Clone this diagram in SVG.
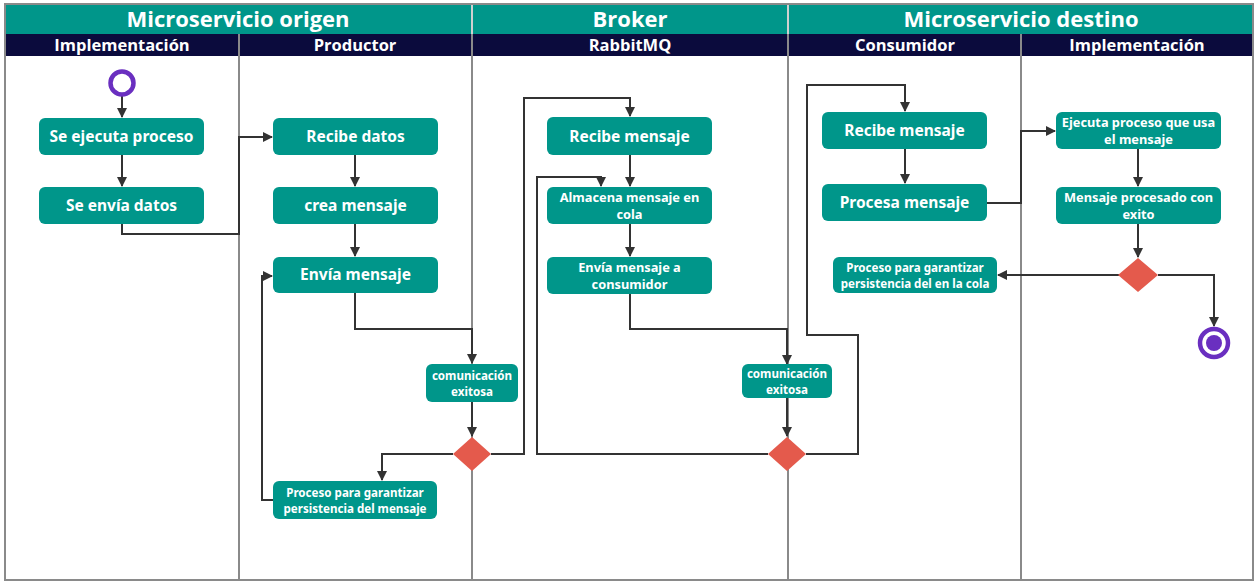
<svg xmlns="http://www.w3.org/2000/svg" width="1257" height="582" viewBox="0 0 1257 582">
  <style>
    .band { fill: #00968a; }
    .sub { fill: #0b0b3d; }
    .lane { stroke: #8a8a8a; stroke-width: 2; fill: none; }
    .hdr { font-family: "Open Sans", "Liberation Sans", sans-serif; font-weight: 700; font-size: 22px; fill: #ffffff; text-anchor: middle; }
    .shdr { font-family: "Open Sans", "Liberation Sans", sans-serif; font-weight: 700; font-size: 16.5px; fill: #ffffff; text-anchor: middle; }
    .node rect { fill: #00968a; }
    .lbl { font-family: "Noto Sans", "Liberation Sans", sans-serif; font-weight: 700; font-size: 15.5px; fill: #ffffff; text-anchor: middle; }
    .sm { font-family: "Noto Sans", "Liberation Sans", sans-serif; font-weight: 700; font-size: 12.8px; fill: #ffffff; text-anchor: middle; }
    .xs { font-family: "Noto Sans", "Liberation Sans", sans-serif; font-weight: 700; font-size: 11.6px; fill: #ffffff; text-anchor: middle; }
    .dec { fill: #e45a4c; }
    .edge { stroke: #333333; stroke-width: 2; fill: none; marker-end: url(#arr); }
  </style>
  <defs>
    <marker id="arr" viewBox="0 0 10 10" refX="9" refY="5" markerWidth="5" markerHeight="5" orient="auto" markerUnits="strokeWidth">
      <path d="M0,0 L10,5 L0,10 z" fill="#333333"/>
    </marker>
  </defs>

  <rect width="1257" height="582" fill="#ffffff"/>

  <!-- pool / lane headers -->
  <g id="headers">
    <rect class="band" x="5" y="4" width="1248" height="30"/>
    <rect class="sub" x="5" y="34" width="1248" height="22"/>
    <line x1="472" y1="4" x2="472" y2="34" stroke="#d0d0d0" stroke-width="2"/>
    <line x1="788" y1="4" x2="788" y2="34" stroke="#d0d0d0" stroke-width="2"/>
    <text class="hdr" x="238" y="27">Microservicio origen</text>
    <text class="hdr" x="630" y="27">Broker</text>
    <text class="hdr" x="1021" y="27">Microservicio destino</text>
    <text class="shdr" x="122" y="51">Implementación</text>
    <text class="shdr" x="355" y="51">Productor</text>
    <text class="shdr" x="630" y="51">RabbitMQ</text>
    <text class="shdr" x="905" y="51">Consumidor</text>
    <text class="shdr" x="1137" y="51">Implementación</text>
  </g>

  <!-- lane borders -->
  <g id="lanes">
    <rect class="lane" x="5" y="4" width="1248" height="576"/>
    <line class="lane" x1="239" y1="34" x2="239" y2="580"/>
    <line class="lane" x1="472" y1="34" x2="472" y2="580"/>
    <line class="lane" x1="788" y1="34" x2="788" y2="580"/>
    <line class="lane" x1="1021" y1="34" x2="1021" y2="580"/>
  </g>

  <!-- connectors -->
  <g id="connectors">
    <path class="edge" d="M122,96 V117"/>
    <path class="edge" d="M122,155 V186"/>
    <path class="edge" d="M122,224 V234 H239 V137 H272"/>
    <path class="edge" d="M355,155 V186"/>
    <path class="edge" d="M355,224 V256"/>
    <path class="edge" d="M355,293 V329 H472 V363"/>
    <path class="edge" d="M472,402 V436"/>
    <path class="edge" d="M453,454 H382 V480"/>
    <path class="edge" d="M273,500 H262 V276 H272"/>
    <path class="edge" d="M491,454 H524 V98 H630 V116"/>
    <path class="edge" d="M630,155 V186"/>
    <path class="edge" d="M630,224 V256"/>
    <path class="edge" d="M630,294 V329 H787 V364"/>
    <path class="edge" d="M787,398 V436"/>
    <path class="edge" d="M768,454 H537 V177 H601 V186"/>
    <path class="edge" d="M806,454 H858 V335 H807 V85 H905 V111"/>
    <path class="edge" d="M905,148 V183"/>
    <path class="edge" d="M987,203 H1021 V131 H1055"/>
    <path class="edge" d="M1138,148 V186"/>
    <path class="edge" d="M1138,224 V257"/>
    <path class="edge" d="M1119,275 H998"/>
    <path class="edge" d="M1158,275 H1214 V326"/>
  </g>

  <!-- start -->
  <g id="start">
    <circle cx="122" cy="83" r="11.5" fill="none" stroke="#6a2fc0" stroke-width="4.5"/>
  </g>

  <g id="n-ejecuta" class="node">
    <rect x="39" y="118" width="165" height="37" rx="6"/>
    <text class="lbl" x="121.5" y="142">Se ejecuta proceso</text>
  </g>
  <g id="n-envia-datos" class="node">
    <rect x="39" y="187" width="165" height="37" rx="6"/>
    <text class="lbl" x="121.5" y="211">Se envía datos</text>
  </g>
  <g id="n-recibe-datos" class="node">
    <rect x="273" y="118" width="165" height="37" rx="6"/>
    <text class="lbl" x="355.5" y="142">Recibe datos</text>
  </g>
  <g id="n-crea" class="node">
    <rect x="273" y="187" width="165" height="37" rx="6"/>
    <text class="lbl" x="355.5" y="211">crea mensaje</text>
  </g>
  <g id="n-envia-mensaje" class="node">
    <rect x="273" y="257" width="165" height="36" rx="6"/>
    <text class="lbl" x="355.5" y="280">Envía mensaje</text>
  </g>
  <g id="n-com1" class="node">
    <rect x="426" y="364" width="92" height="38" rx="6"/>
    <text class="xs" x="472" y="380">comunicación</text>
    <text class="xs" x="472" y="396">exitosa</text>
  </g>
  <g id="d-1">
    <polygon class="dec" points="472,437 491,454 472,471 453,454"/>
  </g>
  <g id="n-persist1" class="node">
    <rect x="273" y="481" width="164" height="38" rx="6"/>
    <text class="xs" x="355" y="497">Proceso para garantizar</text>
    <text class="xs" x="355" y="513">persistencia del mensaje</text>
  </g>

  <g id="n-recibe-mq" class="node">
    <rect x="547" y="117" width="165" height="38" rx="6"/>
    <text class="lbl" x="629.5" y="142">Recibe mensaje</text>
  </g>
  <g id="n-almacena" class="node">
    <rect x="547" y="187" width="165" height="37" rx="6"/>
    <text class="sm" x="629.5" y="202">Almacena mensaje en</text>
    <text class="sm" x="629.5" y="219">cola</text>
  </g>
  <g id="n-envia-consumidor" class="node">
    <rect x="547" y="257" width="165" height="37" rx="6"/>
    <text class="sm" x="629.5" y="272">Envía mensaje a</text>
    <text class="sm" x="629.5" y="289">consumidor</text>
  </g>
  <g id="n-com2" class="node">
    <rect x="742" y="364" width="90" height="34" rx="6"/>
    <text class="xs" x="787" y="378">comunicación</text>
    <text class="xs" x="787" y="394">exitosa</text>
  </g>
  <g id="d-2">
    <polygon class="dec" points="787,437 806,454 787,471 768,454"/>
  </g>

  <g id="n-recibe-cons" class="node">
    <rect x="822" y="112" width="165" height="37" rx="6"/>
    <text class="lbl" x="904.5" y="136">Recibe mensaje</text>
  </g>
  <g id="n-procesa" class="node">
    <rect x="822" y="184" width="165" height="37" rx="6"/>
    <text class="lbl" x="904.5" y="208">Procesa mensaje</text>
  </g>
  <g id="n-persist2" class="node">
    <rect x="833" y="257" width="164" height="36" rx="6"/>
    <text class="xs" x="915" y="272">Proceso para garantizar</text>
    <text class="xs" x="915" y="288">persistencia del en la cola</text>
  </g>

  <g id="n-ejecuta-usa" class="node">
    <rect x="1056" y="112" width="165" height="37" rx="6"/>
    <text class="sm" x="1138.5" y="127">Ejecuta proceso que usa</text>
    <text class="sm" x="1138.5" y="144">el mensaje</text>
  </g>
  <g id="n-procesado" class="node">
    <rect x="1056" y="187" width="165" height="37" rx="6"/>
    <text class="sm" x="1138.5" y="202">Mensaje procesado con</text>
    <text class="sm" x="1138.5" y="219">exito</text>
  </g>
  <g id="d-3">
    <polygon class="dec" points="1138,258 1158,275 1138,292 1118,275"/>
  </g>

  <g id="end">
    <circle cx="1214" cy="343" r="14" fill="none" stroke="#6a2fc0" stroke-width="4.5"/>
    <circle cx="1214" cy="343" r="8" fill="#6a2fc0"/>
  </g>
</svg>
